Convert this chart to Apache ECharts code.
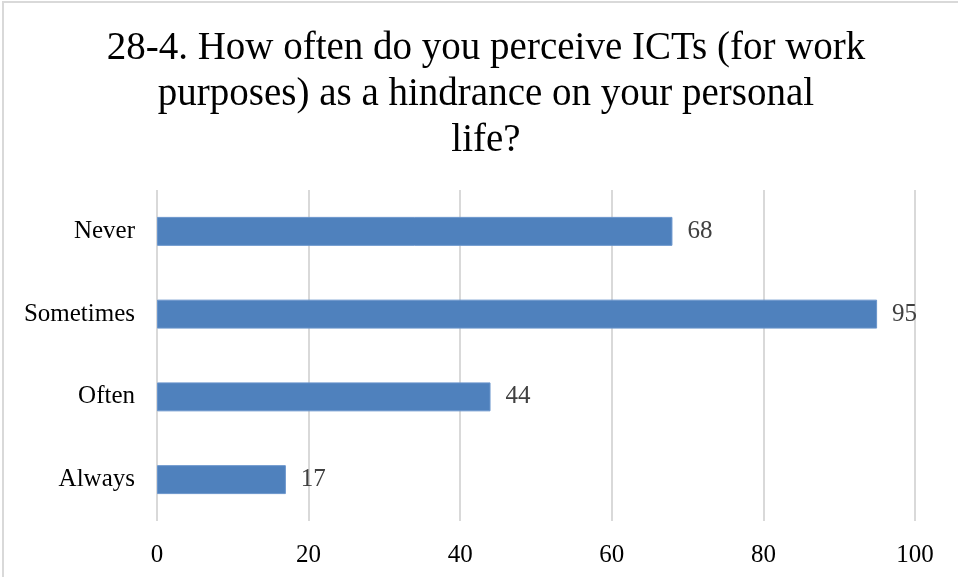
<!DOCTYPE html>
<html>
<head>
<meta charset="utf-8">
<script src="https://cdn.jsdelivr.net/npm/echarts@6/dist/echarts.min.js"></script>
<style>
  html, body { margin: 0; padding: 0; background: #fff; }
  #chart { width: 958px; height: 577px; }
</style>
</head>
<body>
<div id="chart"></div>
<script>
// Survey answers, listed bottom-to-top for the horizontal bar chart
const categories = ['Always', 'Often', 'Sometimes', 'Never'];
const counts = [17, 44, 95, 68];
const tickValues = [0, 20, 40, 60, 80, 100];
const titleLines = [
  '28-4. How often do you perceive ICTs (for work',
  'purposes) as a hindrance on your personal',
  'life?'
];

const serif = '"Liberation Serif", "DejaVu Serif", serif';

const chart = echarts.init(document.getElementById('chart'));
chart.setOption({
  backgroundColor: '#ffffff',
  animation: false,
  grid: {
    left: 157,
    right: 43,
    top: 190,
    bottom: 56
  },
  xAxis: {
    type: 'value',
    min: tickValues[0],
    max: tickValues[tickValues.length - 1],
    interval: 20,
    axisLine: { show: false },
    axisTick: { show: false },
    splitLine: { lineStyle: { color: '#d9d9d9', width: 2 } },
    axisLabel: {
      fontFamily: serif,
      fontSize: 25,
      color: '#000000',
      margin: 22
    }
  },
  yAxis: {
    type: 'category',
    data: categories,
    axisLine: { show: false },
    axisTick: { show: false },
    axisLabel: {
      fontFamily: serif,
      fontSize: 25,
      color: '#000000',
      margin: 22,
      padding: [4, 0, 0, 0]
    }
  },
  series: [{
    type: 'bar',
    data: counts,
    barCategoryGap: '65%',
    itemStyle: {
      color: '#4f81bd',
      borderColor: '#6a95cc',
      borderWidth: 1
    },
    label: {
      show: true,
      position: 'right',
      distance: 15,
      fontFamily: serif,
      fontSize: 25,
      color: '#404040',
      padding: [5, 0, 0, 0]
    }
  }],
  graphic: [
    {
      type: 'rect',
      shape: { x: 3, y: 2, width: 960, height: 580 },
      style: { fill: 'none', stroke: '#d9d9d9', lineWidth: 2 },
      silent: true
    },
    {
      type: 'text',
      x: 486,
      y: 26,
      silent: true,
      style: {
        text: titleLines.join('\n'),
        fontFamily: serif,
        fontSize: 39,
        lineHeight: 46,
        fill: '#000000',
        align: 'center',
        verticalAlign: 'top'
      }
    }
  ]
});
</script>
</body>
</html>
